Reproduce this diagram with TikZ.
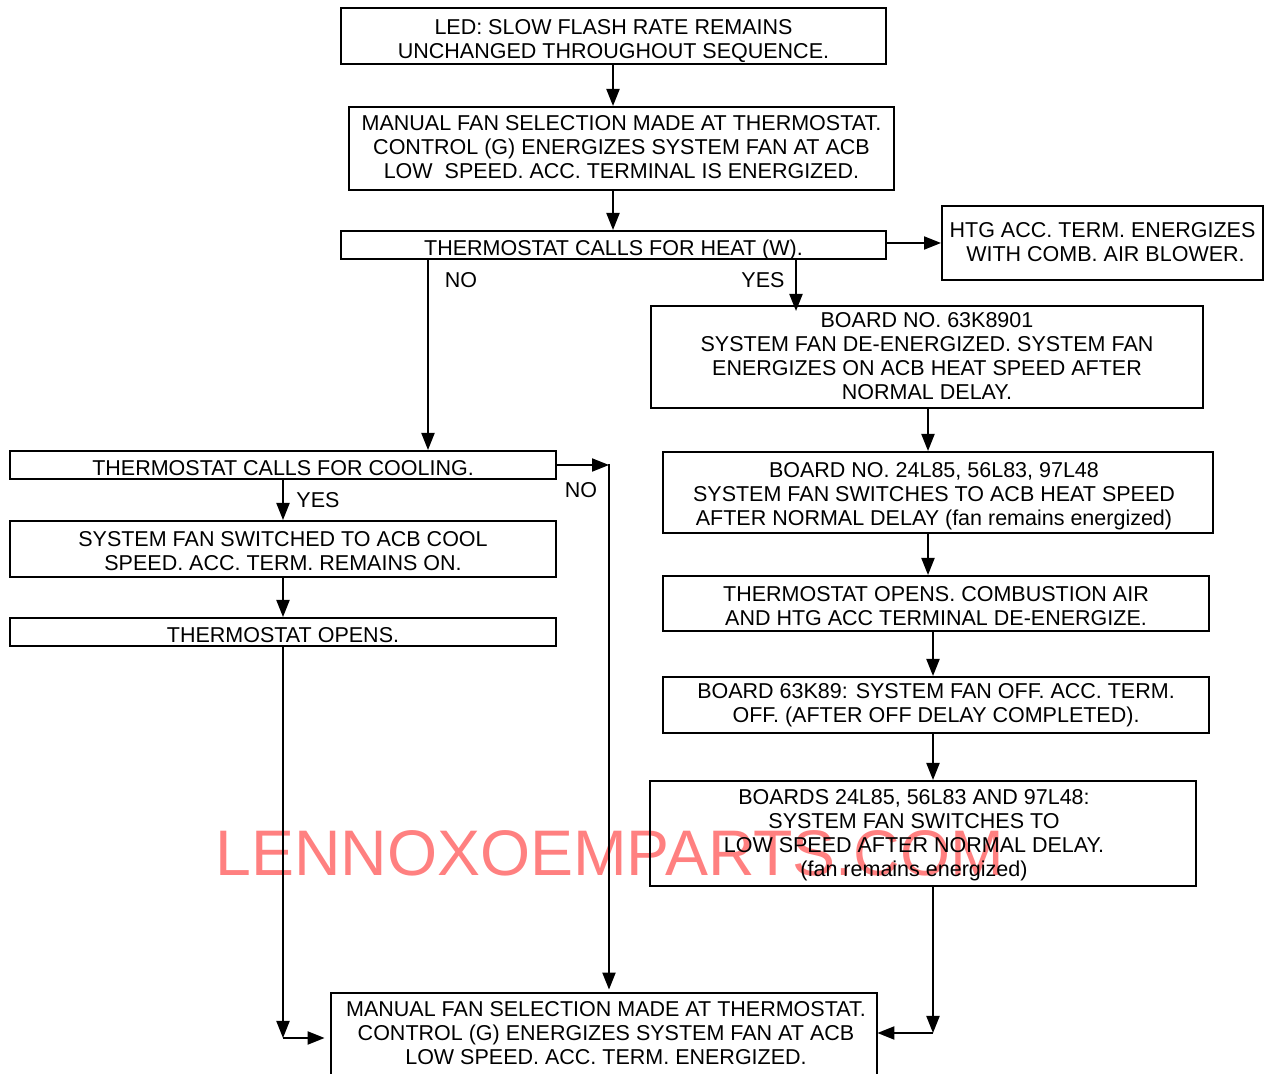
\documentclass[tikz,border=0pt]{standalone}
\usepackage{fontspec}
\setmainfont{Liberation Sans}
\usetikzlibrary{arrows.meta}
\begin{document}
\begin{tikzpicture}[x=0.5pt,y=-0.5pt,
  box/.style={draw,line width=1pt,inner sep=0pt},
  txt/.style={inner sep=0pt,align=center,font=\fontsize{10.75}{12}\selectfont},
  lbl/.style={inner sep=0pt,font=\fontsize{10.75}{12}\selectfont},
  arr/.style={line width=1pt,-{Triangle[length=8.5pt,width=6.5pt]}},
  ln/.style={line width=1pt}]
\clip (0,0) rectangle (1271,1074);
\fill[white] (0,0) rectangle (1271,1074);
% watermark
\node[anchor=base west,inner sep=0pt,text={rgb,255:red,255;green,128;blue,128},font=\fontsize{32.2}{36}\selectfont] (wm) at (215,876) {LENNOXOEMPARTS.COM};
% boxes
\node[box,minimum width=272.5pt,minimum height=28pt] (led) at (613.5,36) {};
\node[box,minimum width=272.5pt,minimum height=41.5pt] (man) at (621.5,148.5) {};
\node[box,minimum width=272.5pt,minimum height=14pt] (heat) at (613.5,245) {};
\node[box,minimum width=160.5pt,minimum height=37pt] (htg) at (1102.5,243) {};
\node[box,minimum width=276pt,minimum height=51pt] (b1) at (927,357) {};
\node[box,minimum width=275pt,minimum height=40.5pt] (b2) at (938,492.5) {};
\node[box,minimum width=273pt,minimum height=27.5pt] (tso) at (936,603.5) {};
\node[box,minimum width=273pt,minimum height=28pt] (b3) at (936,705) {};
\node[box,minimum width=273pt,minimum height=52.5pt] (b4) at (923,833.5) {};
\node[box,minimum width=273pt,minimum height=14pt] (cool) at (283,465) {};
\node[box,minimum width=273pt,minimum height=28pt] (sfs) at (283,549) {};
\node[box,minimum width=273pt,minimum height=14pt] (top) at (283,632) {};
\node[inner sep=0pt,minimum width=273pt,minimum height=40.5pt] (bot) at (604,1033.5) {};
\draw[ln] ([yshift=-10pt]bot.south west) -- (bot.north west) -- (bot.north east) -- ([yshift=-10pt]bot.south east);
% texts
\node[txt] (ledt) at ([yshift=-2.3pt]led.center) {LED: SLOW FLASH RATE REMAINS\\UNCHANGED THROUGHOUT SEQUENCE.};
\node[txt] (mant) at ([yshift=0.8pt]man.center) {MANUAL FAN SELECTION MADE AT THERMOSTAT.\\CONTROL (G) ENERGIZES SYSTEM FAN AT ACB\\LOW\ \ SPEED. ACC. TERMINAL IS ENERGIZED.};
\node[txt] (heatt) at ([yshift=-2.3pt]heat.center) {THERMOSTAT CALLS FOR HEAT (W).};
\node[txt] (htgt) at ([yshift=0.3pt]htg.center) {HTG ACC. TERM. ENERGIZES\\\ WITH COMB. AIR BLOWER.};
\node[txt] (b1t) at ([yshift=0.5pt]b1.center) {BOARD NO. 63K8901\\SYSTEM FAN DE-ENERGIZED. SYSTEM FAN\\ENERGIZES ON ACB HEAT SPEED AFTER\\NORMAL DELAY.};
\node[txt] (b2t) at ([xshift=-2pt,yshift=-2pt]b2.center) {BOARD NO. 24L85, 56L83, 97L48\\SYSTEM FAN SWITCHES TO ACB HEAT SPEED\\AFTER NORMAL DELAY (fan remains energized)};
\node[txt] (tsot) at ([yshift=-1.5pt]tso.center) {THERMOSTAT OPENS. COMBUSTION AIR\\AND HTG ACC TERMINAL DE-ENERGIZE.};
\node[txt] (b3t) at (b3.center) {BOARD 63K89: SYSTEM FAN OFF. ACC. TERM.\\OFF. (AFTER OFF DELAY COMPLETED).};
\node[txt] (b4t) at ([xshift=-4.5pt,yshift=-1pt]b4.center) {BOARDS 24L85, 56L83 AND 97L48:\\SYSTEM FAN SWITCHES TO\\LOW SPEED AFTER NORMAL DELAY.\\(fan remains energized)};
\node[txt] (coolt) at ([yshift=-1.5pt]cool.center) {THERMOSTAT CALLS FOR COOLING.};
\node[txt] (sfst) at ([yshift=-1pt]sfs.center) {SYSTEM FAN SWITCHED TO ACB COOL\\SPEED. ACC. TERM. REMAINS ON.};
\node[txt] (topt) at ([yshift=-1.5pt]top.center) {THERMOSTAT OPENS.};
\node[txt] (bott) at ([xshift=1pt]bot.center) {MANUAL FAN SELECTION MADE AT THERMOSTAT.\\CONTROL (G) ENERGIZES SYSTEM FAN AT ACB\\LOW SPEED. ACC. TERM. ENERGIZED.};
% labels
\node[lbl] (no1) at (461,280) {NO};
\node[lbl] (yes1) at (763,280) {YES};
\node[lbl] (yes2) at (318,500) {YES};
\node[lbl] (no2) at (581,490) {NO};
% helper coordinates
\coordinate (c613) at (613,0);
\coordinate (c796) at (796,0);
\coordinate (c428) at (428,0);
\coordinate (c928) at (928,0);
\coordinate (c933) at (933,0);
\coordinate (c283) at (283,0);
\coordinate (rj) at (933,1033);
\coordinate (lj) at (283,1038);
\coordinate (nj) at (609,465);
% connectors
\draw[arr] (led.south -| c613) -- (man.north -| c613);
\draw[arr] (man.south -| c613) -- (heat.north -| c613);
\draw[arr] (heat.east |- htg.west) -- (htg.west);
\draw[arr] (heat.south -| c796) -- ([yshift=-3pt]b1.north -| c796);
\draw[arr] (heat.south -| c428) -- (cool.north -| c428);
\draw[arr] (b1.south -| c928) -- (b2.north -| c928);
\draw[arr] (b2.south -| c928) -- (tso.north -| c928);
\draw[arr] (tso.south -| c933) -- (b3.north -| c933);
\draw[arr] (b3.south -| c933) -- (b4.north -| c933);
\draw[arr] (b4.south -| c933) -- (rj);
\draw[arr] (rj) -- (bot.east |- rj);
\draw[arr] (cool.south -| c283) -- (sfs.north -| c283);
\draw[arr] (sfs.south -| c283) -- (top.north -| c283);
\draw[arr] (top.south -| c283) -- (lj);
\draw[arr] (lj) -- ([xshift=-3pt]bot.west |- lj);
\draw[arr] (cool.east) -- (nj);
\draw[arr] ([yshift=0.5pt]nj) -- ([yshift=1.5pt]bot.north -| nj);
\end{tikzpicture}
\end{document}
